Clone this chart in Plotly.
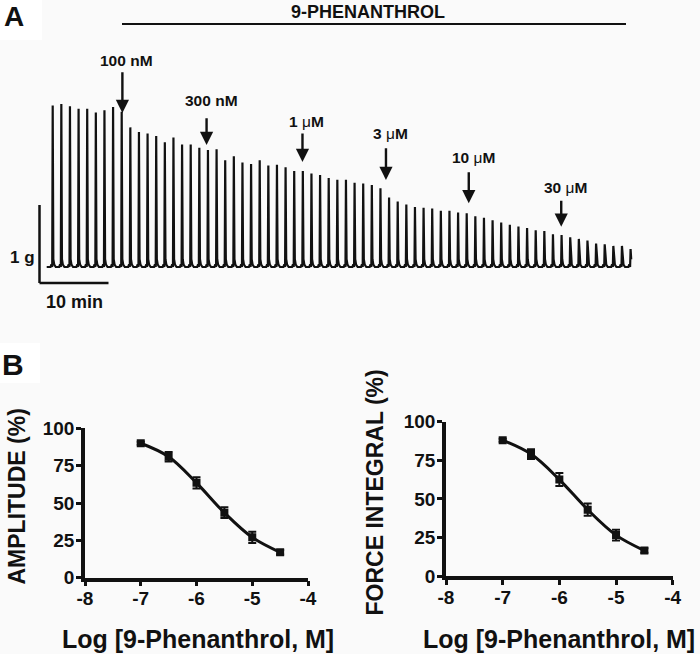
import plotly.graph_objects as go

# ---------------- data ----------------
# Panel A: peak amplitude (g) of each phasic contraction, in order
peak_amplitude_g = [
    2.07, 2.09, 2.06, 2.03, 2.03, 1.98, 2.01, 2.05, 1.99, 1.79,
    1.73, 1.71, 1.68, 1.60, 1.66, 1.57, 1.57, 1.53, 1.50, 1.51,
    1.37, 1.42, 1.34, 1.32, 1.37, 1.30, 1.31, 1.28, 1.23, 1.23,
    1.20, 1.18, 1.14, 1.12, 1.12, 1.08, 1.07, 1.05, 1.01, 0.89,
    0.84, 0.80, 0.77, 0.76, 0.75, 0.72, 0.72, 0.70, 0.69, 0.65,
    0.63, 0.60, 0.57, 0.54, 0.52, 0.50, 0.47, 0.46, 0.42, 0.41,
    0.38, 0.36, 0.34, 0.30, 0.29, 0.27, 0.27, 0.23,
]
contraction_period_min = 1.25
addition_labels = ["100 nM", "300 nM", "1 μM", "3 μM", "10 μM", "30 μM"]
addition_time_min = [10.1, 22.3, 36.2, 48.3, 60.3, 73.7]

# Panel B: concentration-response
log_conc = [-7, -6.5, -6, -5.5, -5, -4.5]
amplitude_pct = [90, 81, 63.5, 43.5, 27, 17]
amplitude_sem = [1.0, 3.2, 3.8, 3.6, 3.8, 1.5]
force_integral_pct = [88, 79, 62.5, 43, 26.5, 16.5]
force_integral_sem = [1.0, 3.2, 4.2, 4.0, 3.5, 1.5]
x_tick_vals = [-8, -7, -6, -5, -4]
x_tick_text = ["-8", "-7", "-6", "-5", "-4"]
y_tick_vals = [0, 25, 50, 75, 100]

# ---------------- geometry helpers ----------------
W, H = 700, 654
FONT = "Arial, Liberation Sans, sans-serif"
INK = "#111111"
T0_PX, PX_PER_MIN = 52.7, 6.9      # x pixel of first contraction, px per minute
BASE_PY, PX_PER_G = 267.0, 78.0    # baseline pixel row, px per gram


def fx(px):
    return px / W


def fy(py):
    return 1 - py / H


def t_of(px):
    return (px - T0_PX) / PX_PER_MIN


def g_of(py):
    return (BASE_PY - py) / PX_PER_G


# build the force trace from the peak amplitudes
tx, ty = [t_of(46.7)], [0.0]
for i, a in enumerate(peak_amplitude_g):
    t = i * contraction_period_min
    tx += [t - 0.32, t - 0.18, t - 0.07, t, t + 0.09, t + 0.22, t + 0.45]
    ty += [0.0, 0.035, 0.0, a, 0.1, 0.03, 0.0]
tx, ty = tx[:-2], ty[:-2]

fig = go.Figure()
fig.add_trace(go.Scatter(x=tx, y=ty, mode="lines", xaxis="x", yaxis="y",
                         line=dict(color=INK, width=2.2), hoverinfo="skip"))

marker = dict(symbol="square", size=8, color=INK)
for k, (vals, sem) in enumerate([(amplitude_pct, amplitude_sem),
                                 (force_integral_pct, force_integral_sem)]):
    xa, ya = ("x2", "y2") if k == 0 else ("x3", "y3")
    fig.add_trace(go.Scatter(x=log_conc, y=vals, mode="lines", xaxis=xa, yaxis=ya,
                             line=dict(color=INK, width=3, shape="spline", smoothing=1.0)))
    fig.add_trace(go.Scatter(x=log_conc, y=vals, mode="markers", xaxis=xa, yaxis=ya,
                             marker=marker,
                             error_y=dict(type="data", array=sem, color=INK,
                                          thickness=2, width=4)))

# ---------------- axes ----------------
hidden = dict(visible=False, showgrid=False, zeroline=False, fixedrange=True)
layout = dict(
    width=W, height=H, margin=dict(l=0, r=0, t=0, b=0, autoexpand=False),
    paper_bgcolor="#fafafa", plot_bgcolor="rgba(0,0,0,0)",
    showlegend=False,
    font=dict(family=FONT, color=INK),
    xaxis=dict(domain=[0, 1], range=[t_of(0), t_of(W)], **hidden),
    yaxis=dict(domain=[0, 1], range=[g_of(H), g_of(0)], **hidden),
)


def panel_axes(x0, x1, y0, y100):
    common = dict(showline=True, linewidth=3.5, linecolor=INK, mirror=False,
                  ticks="outside", ticklen=5, tickwidth=3, tickcolor=INK,
                  showgrid=False, zeroline=False, automargin=False,
                  tickfont=dict(family=FONT, size=19, weight="bold", color=INK))
    xa = dict(domain=[fx(x0), fx(x1)], range=[-8, -4], tickvals=x_tick_vals,
              ticktext=x_tick_text, ticklabelstandoff=-4, **common)
    ya = dict(domain=[fy(y0), fy(y100)], range=[0, 100], tickvals=y_tick_vals,
              ticklabelstandoff=-2, **common)
    return xa, ya


layout["xaxis2"], layout["yaxis2"] = panel_axes(85, 308, 577.7, 428.3)
layout["xaxis2"]["anchor"] = "y2"
layout["yaxis2"]["anchor"] = "x2"
layout["xaxis3"], layout["yaxis3"] = panel_axes(446, 672.7, 576, 421.7)
layout["xaxis3"]["anchor"] = "y3"
layout["yaxis3"]["anchor"] = "x3"
fig.update_layout(**layout)

# ---------------- annotations / shapes ----------------
ann = []
shapes = []


def text(px, py, s, size, bold=True, angle=0):
    ann.append(dict(x=fx(px), y=fy(py), xref="paper", yref="paper", text=s,
                    showarrow=False, textangle=angle, xanchor="center", yanchor="middle",
                    font=dict(family=FONT, size=size, color=INK,
                              weight="bold" if bold else "normal")))


# white boxes behind panel letters
shapes.append(dict(type="rect", xref="paper", yref="paper", x0=0, x1=fx(42), y0=fy(40), y1=1,
                   fillcolor="white", line=dict(width=0), layer="below"))
shapes.append(dict(type="rect", xref="paper", yref="paper", x0=0, x1=fx(40), y0=fy(383), y1=fy(343),
                   fillcolor="white", line=dict(width=0), layer="below"))
text(14, 16, "A", 28)
text(13, 364, "B", 30)

# drug bar
text(368, 12.5, "9-PHENANTHROL", 18)
shapes.append(dict(type="line", xref="x", yref="y", x0=t_of(122), x1=t_of(626),
                   y0=g_of(24), y1=g_of(24), line=dict(color=INK, width=2)))

# scale bars
sx = t_of(39.5)
shapes.append(dict(type="line", xref="x", yref="y", x0=sx, x1=sx, y0=g_of(283), y1=g_of(283) + 1.0,
                   line=dict(color=INK, width=2.5)))
shapes.append(dict(type="line", xref="x", yref="y", x0=sx, x1=sx + 10, y0=g_of(283), y1=g_of(283),
                   line=dict(color=INK, width=2.5)))
text(22, 257, "1 g", 17)
text(74, 302, "10 min", 18)

# addition arrows
head_py = [113, 145, 162, 180, 203.3, 226.7]
tail_py = [70.7, 116.7, 132, 146.7, 170.7, 199.3]
label_py = [60, 100, 121, 133.3, 157.3, 187.3]
for lab, tm, hp, tp, lp in zip(addition_labels, addition_time_min, head_py, tail_py, label_py):
    ann.append(dict(x=tm, y=g_of(hp), xref="x", yref="y", ax=0, ay=-(hp - tp),
                    text="", showarrow=True, arrowhead=2, arrowsize=1.1, arrowwidth=2.4,
                    arrowcolor=INK))
    num, unit = lab.split(" ")
    if "μ" in unit:
        s = "<b>" + num + " </b>μ<b>M</b>"
        fnt = dict(family=FONT, size=15.5, color=INK, weight="normal")
    else:
        s = "<b>" + lab + "</b>"
        fnt = dict(family=FONT, size=15.5, color=INK)
    ann.append(dict(x=tm, y=g_of(lp), xref="x", yref="y", xshift=4.5, text=s,
                    showarrow=False, font=fnt))

# axis titles
text(17, 496.5, "AMPLITUDE (%)", 23, angle=-90)
text(374, 492.5, "FORCE INTEGRAL (%)", 23, angle=-90)
text(198, 639, "Log [9-Phenanthrol, M]", 25)
text(559, 638.5, "Log [9-Phenanthrol, M]", 25)

fig.update_layout(annotations=ann, shapes=shapes)
fig.write_html("out.html", config={"displayModeBar": False},
               post_script="document.body.style.margin='0';document.body.style.overflow='hidden';")
